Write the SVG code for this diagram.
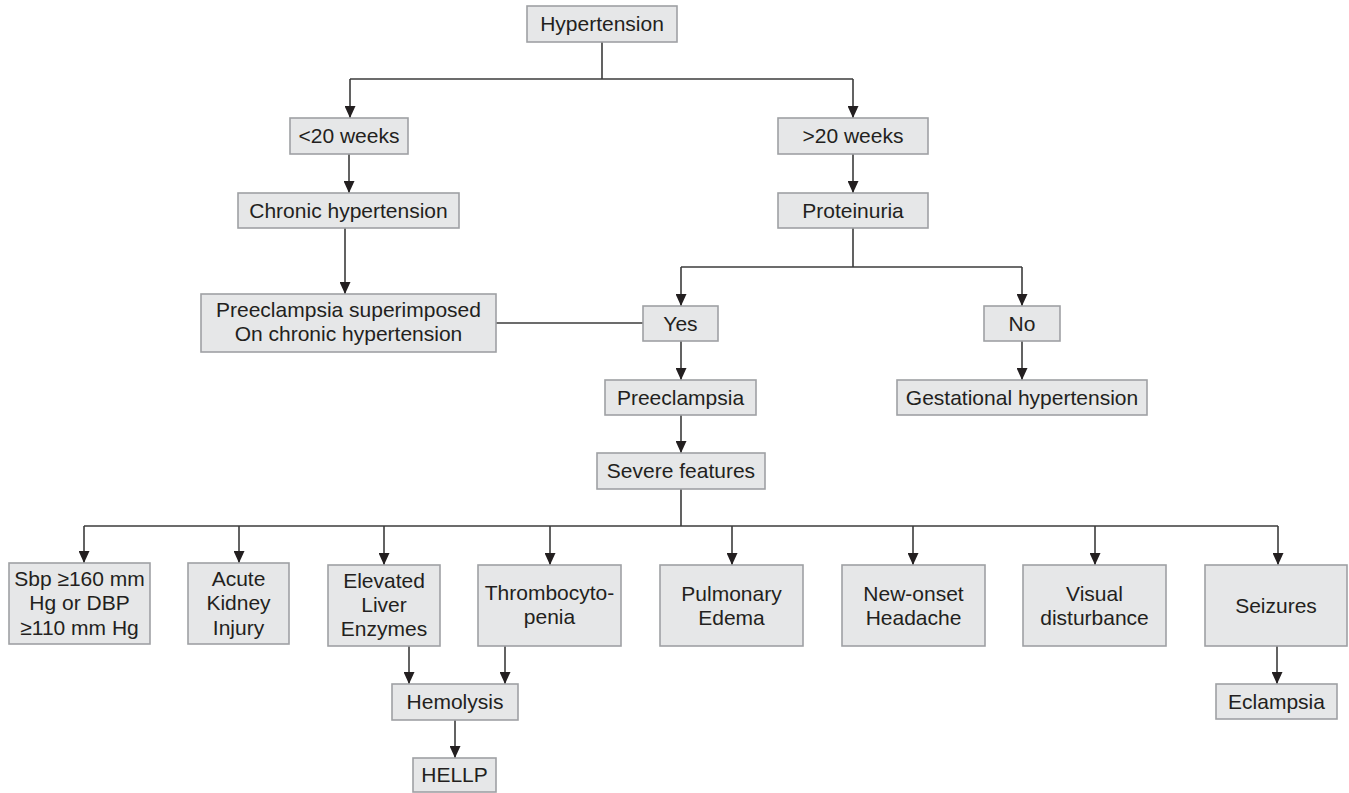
<svg xmlns="http://www.w3.org/2000/svg" width="1349" height="793" viewBox="0 0 1349 793">
<style>
.box{fill:#e6e7e8;stroke:#9fa1a4;stroke-width:1.6}
.t{font-family:"Liberation Sans",Arial,sans-serif;font-size:21px;fill:#231f20;text-anchor:middle}
.ln{fill:none;stroke:#3c3c3c;stroke-width:1.6}
.ar{fill:none;stroke:#3c3c3c;stroke-width:1.6;marker-end:url(#ah)}
</style>
<defs>
<marker id="ah" viewBox="0 0 12 11" refX="12" refY="5.5" markerWidth="12" markerHeight="11" orient="auto" markerUnits="userSpaceOnUse">
<path d="M0,0 L12,5.5 L0,11 z" fill="#231f20"/>
</marker>
</defs>
<rect width="1349" height="793" fill="#ffffff"/>
<g id="connectors">
<path class="ln" d="M602 42 V79 M350 79 H853 M853 228 V267 M681 267 H1022 M496 323 H643 M681 489 V526 M84 526 H1278"/>
<path class="ar" d="M350 79 V118"/>
<path class="ar" d="M853 79 V118"/>
<path class="ar" d="M349 154 V193"/>
<path class="ar" d="M853 154 V193"/>
<path class="ar" d="M345 228 V294"/>
<path class="ar" d="M681 267 V306"/>
<path class="ar" d="M1022 267 V306"/>
<path class="ar" d="M681 341 V380"/>
<path class="ar" d="M1022 341 V380"/>
<path class="ar" d="M681 415 V453"/>
<path class="ar" d="M84 526 V563"/>
<path class="ar" d="M239 526 V563"/>
<path class="ar" d="M384 526 V565"/>
<path class="ar" d="M550 526 V565"/>
<path class="ar" d="M732 526 V565"/>
<path class="ar" d="M913 526 V565"/>
<path class="ar" d="M1095 526 V565"/>
<path class="ar" d="M1278 526 V565"/>
<path class="ar" d="M409 646 V684"/>
<path class="ar" d="M505 646 V684"/>
<path class="ar" d="M455 720 V758"/>
<path class="ar" d="M1277 646 V684"/>
</g>
<g id="hypertension"><rect class="box" x="527" y="6" width="150" height="36"/><text class="t" x="602" y="31">Hypertension</text></g>
<g id="lt20"><rect class="box" x="290" y="118" width="118" height="36"/><text class="t" x="349" y="143">&lt;20 weeks</text></g>
<g id="gt20"><rect class="box" x="778" y="118" width="150" height="36"/><text class="t" x="853" y="143">&gt;20 weeks</text></g>
<g id="chronic"><rect class="box" x="238" y="193" width="221" height="35"/><text class="t" x="348.5" y="217.5">Chronic hypertension</text></g>
<g id="proteinuria"><rect class="box" x="778" y="193" width="150" height="35"/><text class="t" x="853" y="217.5">Proteinuria</text></g>
<g id="superimposed"><rect class="box" x="201" y="294" width="295" height="58"/><text class="t" x="348.5" y="316.5">Preeclampsia superimposed</text><text class="t" x="348.5" y="340.5">On chronic hypertension</text></g>
<g id="yes"><rect class="box" x="643" y="306" width="75" height="35"/><text class="t" x="680.5" y="330.5">Yes</text></g>
<g id="no"><rect class="box" x="984" y="306" width="76" height="35"/><text class="t" x="1022" y="330.5">No</text></g>
<g id="preeclampsia"><rect class="box" x="605" y="380" width="151" height="35"/><text class="t" x="680.5" y="404.5">Preeclampsia</text></g>
<g id="gestational"><rect class="box" x="897" y="380" width="250" height="35"/><text class="t" x="1022" y="404.5">Gestational hypertension</text></g>
<g id="severe"><rect class="box" x="597" y="453" width="168" height="36"/><text class="t" x="681" y="478">Severe features</text></g>
<g id="sbp"><rect class="box" x="9" y="563" width="141" height="81"/><text class="t" x="79.5" y="585.5">Sbp ≥160 mm</text><text class="t" x="79.5" y="610">Hg or DBP</text><text class="t" x="79.5" y="634.5">≥110 mm Hg</text></g>
<g id="aki"><rect class="box" x="188" y="563" width="101" height="81"/><text class="t" x="238.5" y="585.5">Acute</text><text class="t" x="238.5" y="610">Kidney</text><text class="t" x="238.5" y="634.5">Injury</text></g>
<g id="elevated"><rect class="box" x="328" y="565" width="112" height="81"/><text class="t" x="384" y="587.5">Elevated</text><text class="t" x="384" y="611.5">Liver</text><text class="t" x="384" y="635.5">Enzymes</text></g>
<g id="thrombo"><rect class="box" x="478" y="565" width="143" height="81"/><text class="t" x="549.5" y="599.5">Thrombocyto-</text><text class="t" x="549.5" y="624">penia</text></g>
<g id="pulmonary"><rect class="box" x="660" y="565" width="143" height="81"/><text class="t" x="731.5" y="601">Pulmonary</text><text class="t" x="731.5" y="625">Edema</text></g>
<g id="newonset"><rect class="box" x="842" y="565" width="143" height="81"/><text class="t" x="913.5" y="601">New-onset</text><text class="t" x="913.5" y="625">Headache</text></g>
<g id="visual"><rect class="box" x="1023" y="565" width="143" height="81"/><text class="t" x="1094.5" y="601">Visual</text><text class="t" x="1094.5" y="625">disturbance</text></g>
<g id="seizures"><rect class="box" x="1205" y="565" width="142" height="81"/><text class="t" x="1276" y="613">Seizures</text></g>
<g id="hemolysis"><rect class="box" x="392" y="684" width="126" height="36"/><text class="t" x="455" y="709">Hemolysis</text></g>
<g id="hellp"><rect class="box" x="413" y="758" width="83" height="34"/><text class="t" x="454.5" y="782">HELLP</text></g>
<g id="eclampsia"><rect class="box" x="1216" y="684" width="121" height="35"/><text class="t" x="1276.5" y="708.5">Eclampsia</text></g>
</svg>
